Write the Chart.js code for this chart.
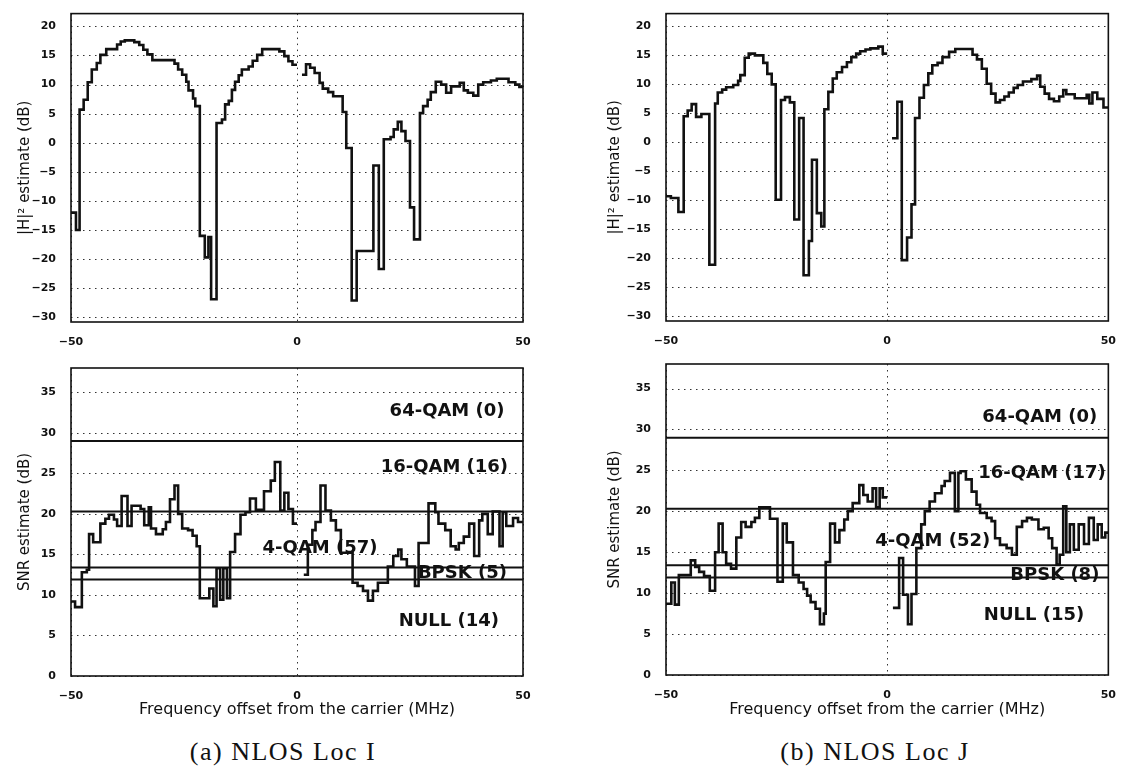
<!DOCTYPE html>
<html>
<head>
<meta charset="utf-8">
<script src="https://cdn.jsdelivr.net/npm/chart.js@4.4.1/dist/chart.umd.min.js"></script>
<style>
    html, body { margin: 0; background: #fff; }
    #page { position: relative; width: 1122px; height: 767px; overflow: hidden; background: #fff; }
    #page canvas { position: absolute; }
    .caption {
        position: absolute; top: 737px; line-height: 30px;
        font-family: "Liberation Serif", serif; font-size: 26px; letter-spacing: 1.5px;
        color: #111; white-space: nowrap; transform: translateX(-50%);
    }
</style>
</head>
<body>
<div id="page">
    <canvas id="h-loc-i" width="560" height="345" style="left:0;top:0"></canvas>
    <canvas id="snr-loc-i" width="560" height="385" style="left:0;top:345px"></canvas>
    <canvas id="h-loc-j" width="532" height="345" style="left:590px;top:0"></canvas>
    <canvas id="snr-loc-j" width="532" height="385" style="left:590px;top:345px"></canvas>
    <div class="caption" style="left:283px">(a) NLOS Loc I</div>
    <div class="caption" style="left:875px">(b) NLOS Loc J</div>
</div>

<script>
// tick labels
const FREQ_TICKS = [-50, 0, 50];
const H_TICKS = [-30, -25, -20, -15, -10, -5, 0, 5, 10, 15, 20];
const SNR_TICKS = [0, 5, 10, 15, 20, 25, 30, 35];

// modulation switching thresholds (dB)
const SNR_THRESHOLDS = [29, 20.3, 13.4, 11.9];

// |H|^2 estimate, Loc I  (step starts in MHz, level in dB, null = DC gap)
const LOC_I_H_FREQ = [-50, -48.9, -48.1, -47.2, -46.3, -45.4, -44.3, -43.5, -42.2, -39.8,
    -39, -38.1, -36, -34.9, -34, -33.1, -32, -27.1, -26.3, -25.4,
    -24.5, -24, -23, -22.5, -21.5, -20.4, -19.6, -19, -17.8, -16.6,
    -15.9, -15.1, -14.4, -13.7, -12.9, -12.2, -10.7, -9.8, -8.8, -7.7,
    -3.9, -2.8, -1.9, -1, 0, 0.5, 1.1, 2, 2.9, 3.9,
    5, 5.7, 6.9, 8, 10.1, 10.9, 12.1, 13.2, 16.9, 18.1,
    19.2, 20.7, 21.4, 22.3, 23.1, 24, 25, 25.9, 27.2, 27.9,
    28.9, 29.6, 30.7, 31.9, 33, 34.1, 36, 36.9, 37.8, 39,
    40.1, 41.2, 42.9, 44.2, 46.8, 48.3, 49.2, 50];
const LOC_I_H_DB = [-12, -15, 5.7, 7.4, 10.4, 12.6, 13.7, 15.1, 16.1, 16.9,
    17.4, 17.6, 17.3, 16.8, 16, 15.2, 14.2, 13.6, 12.6, 11.7,
    10.5, 9, 7.6, 6.3, -16, -19.7, -16.2, -26.9, 3.4, 4,
    6.6, 7.2, 9.1, 10.5, 11.6, 12.6, 13.1, 14.1, 15.1, 16.1,
    15.7, 14.9, 14, 13.4, 13.4, null, 11.7, 13.5, 12.9, 12,
    10.3, 9.3, 8.7, 8, 5.3, -0.9, -27.1, -18.6, -3.9, -21.7,
    0.6, 1, 2.3, 3.6, 2, 0.3, -11.1, -16.6, 5.1, 6.3,
    7.4, 8.7, 10.5, 10, 8.6, 9.7, 10.3, 9, 8.6, 8.1,
    10, 10.4, 10.7, 11, 10.4, 10, 9.6, 9.6];

// |H|^2 estimate, Loc J
const LOC_J_H_FREQ = [-50, -48.9, -47.2, -46, -45.1, -44.2, -43.2, -42, -40.2, -38.9,
    -38.3, -37.3, -36.4, -34.8, -33.7, -33.2, -32.2, -31.3, -29.9, -28,
    -27.1, -26.1, -25.2, -24, -23.1, -22, -21, -19.9, -18.9, -17.7,
    -17, -15.9, -14.9, -14.2, -13.3, -12.3, -11.4, -10.2, -9.1, -8.1,
    -7, -6.1, -4.9, -3.8, -2, -1, 0, 0.5, 1.1, 2.3,
    3.3, 4.5, 5.5, 6.3, 7.3, 8.3, 9.3, 10.2, 11.4, 12.5,
    14, 15.4, 19.3, 20.3, 21.4, 22.5, 23.5, 24.5, 25.5, 26.5,
    27.5, 28.6, 29.5, 30.7, 32.6, 33.9, 34.6, 35.6, 36.6, 37.7,
    38.9, 39.8, 40.5, 42.4, 45.1, 45.7, 46.4, 47.5, 48.9, 50];
const LOC_J_H_DB = [-9.3, -9.6, -12, 4.5, 5.5, 6.6, 4.4, 4.9, -21.1, 6.7,
    8.6, 9.1, 9.5, 9.9, 10.6, 11.6, 14.6, 15.3, 15, 13.7,
    11.8, 10, -9.9, 7.3, 7.8, 6.9, -13.3, 4.2, -22.9, -17,
    -3, -12.2, -14.5, 5.7, 8.7, 11, 12.1, 13, 13.8, 14.7,
    15.3, 15.7, 16, 16.2, 16.5, 15.3, 15.3, null, 0.7, 7,
    -20.3, -16.4, -10.7, 4.2, 7.7, 9.9, 11.9, 13.3, 13.7, 14.7,
    15.6, 16.1, 15.1, 14.3, 12.7, 10.1, 8.4, 6.9, 7.3, 7.9,
    8.6, 9.4, 9.9, 10.5, 10.9, 11.5, 9.6, 8.4, 7.5, 7.1,
    7.9, 9, 8.3, 7.6, 8.2, 6.7, 8.6, 7.5, 6, 6];

// SNR estimate, Loc I
const LOC_I_SNR_FREQ = [-50, -49.1, -47.6, -46.5, -46, -45.1, -43.5, -42.4, -41.6, -40.5,
    -39.8, -38.8, -37.5, -36.6, -34.6, -33.8, -32.8, -32.3, -31.2, -29.7,
    -29, -28.1, -27.1, -26.3, -25.4, -24.1, -23.1, -22.2, -21.5, -19.4,
    -18.5, -17.8, -17, -16.3, -15.5, -14.8, -13.7, -12.5, -11.4, -10.4,
    -9.1, -7.3, -5.8, -4.9, -3.7, -2.8, -1.9, -0.9, 0, 0.7,
    1.5, 2.4, 3.4, 4.1, 5.2, 6.3, 7.5, 8.6, 9.7, 12.3,
    13.4, 14.6, 15.7, 16.8, 17.9, 20.1, 21.3, 22.4, 23.1, 24.3,
    26.1, 26.9, 29.1, 30.6, 31.3, 32.8, 34, 35.1, 35.8, 36.9,
    38.1, 39.2, 40.3, 41, 42.2, 43.3, 44.8, 45.5, 46.3, 47.8,
    48.9, 50];
const LOC_I_SNR_DB = [9.2, 8.5, 12.8, 13.1, 17.5, 16.5, 18.8, 19.4, 19.9, 19.3,
    18.5, 22.2, 18.5, 21, 20.6, 18.6, 20.8, 18.2, 17.5, 18.1,
    19, 21.8, 23.5, 20, 18.2, 18, 17.3, 16, 9.6, 10.8,
    8.6, 13.3, 9.4, 13.3, 9.6, 15.3, 17.5, 19.9, 20.2, 21.9,
    20.5, 22.8, 24.1, 26.4, 20.4, 22.6, 20.6, 18.8, 18.8, null,
    12.5, 16.2, 18, 19, 23.5, 20.4, 19.2, 18, 15.2, 11.5,
    11.1, 10.5, 9.3, 10.5, 11.5, 13.5, 14.8, 15.6, 14.4, 13.5,
    11.1, 16.4, 21.3, 20.2, 18.8, 18, 16, 15.6, 16.4, 17.2,
    18.8, 14.8, 19.2, 20, 17.5, 20.3, 16, 20.2, 18.5, 19.5,
    19, 19];

// SNR estimate, Loc J
const LOC_J_SNR_FREQ = [-50, -48.8, -48, -47.1, -44.4, -43.4, -42.5, -41.4, -40.1, -38.9,
    -38.1, -37.2, -36.4, -35.3, -34.1, -33, -32, -30.7, -29.9, -28.9,
    -26.5, -24.8, -23.6, -22.7, -21.3, -20, -18.9, -18.1, -17.3, -16.2,
    -15.2, -14.3, -13.9, -12.9, -11.8, -10.8, -9.7, -8.9, -7.8, -6.3,
    -5.4, -4.4, -3.3, -2.5, -1.7, -1, 0, 0.6, 1.3, 2.7,
    3.6, 4.7, 5.5, 6.6, 7.7, 8.5, 9.6, 10.8, 12.3, 13,
    14.2, 15.3, 16.1, 16.6, 17.8, 19.1, 20.2, 21, 22.5, 23.6,
    24.4, 25.5, 27, 28.2, 29.3, 30.5, 31.6, 32.7, 34.2, 35.4,
    36.5, 37.3, 38.3, 39, 39.8, 40.5, 41.3, 42.2, 43.3, 44.5,
    45.6, 46.7, 47.6, 48.5, 49.3, 50];
const LOC_J_SNR_DB = [8.7, 11.3, 8.6, 12.2, 14, 13.2, 12.6, 12.1, 10.3, 15,
    18.5, 15, 13.6, 13, 16.8, 18.7, 18.1, 18.7, 19.2, 20.5,
    19.1, 11.4, 18.5, 16.2, 12.2, 11.3, 10.5, 9.7, 8.9, 8.1,
    6.2, 7.5, 13.8, 18.5, 16.2, 17.7, 19, 20, 21, 23.2,
    22, 21.2, 22.8, 20.5, 22.8, 21.7, 21.7, null, 8.2, 14.3,
    9.8, 6.2, 9.9, 15.5, 18.4, 20, 21.2, 22.2, 23.1, 23.7,
    24.7, 20, 24.7, 24.9, 23.9, 22.4, 20.8, 19.8, 19.2, 18.8,
    16.7, 15.9, 15.5, 14.7, 18.1, 18.8, 19.2, 19, 17.8, 18,
    16.7, 15.5, 13.5, 14.7, 20.6, 15, 18.4, 15.3, 18.4, 16,
    19.2, 16.5, 18.4, 16.8, 17.4, 17.4];

// subcarrier counts per modulation
const LOC_I_LEVELS = ['64-QAM (0)', '16-QAM (16)', '4-QAM (57)', 'BPSK (5)', 'NULL (14)'];
const LOC_J_LEVELS = ['64-QAM (0)', '16-QAM (17)', '4-QAM (52)', 'BPSK (8)', 'NULL (15)'];

// where the level names sit, [MHz, dB]
const LOC_I_LEVEL_AT = [[33.2, 32.6], [32.6, 25.7], [5.1, 15.8], [36.6, 12.7], [33.6, 6.7]];
const LOC_J_LEVEL_AT = [[34.5, 31.5], [35, 24.7], [10.3, 16.3], [37.9, 12.2], [33.2, 7.3]];

const ink = '#111';
Chart.defaults.font.family = '"DejaVu Sans", sans-serif';
Chart.defaults.color = ink;

function minusSign(v) {
    return String(v).replace('-', '\u2212');
}

// dotted grid + closed box + level names, matlab style
function paperFrame(levels, levelAt) {
    return {
        id: 'paperFrame',
        beforeDatasetsDraw(chart) {
            const {ctx, chartArea: a, scales} = chart;
            ctx.save();
            ctx.strokeStyle = '#333';
            ctx.lineWidth = 1;
            ctx.setLineDash([1.5, 4.5]);
            scales.y.ticks.forEach(t => {
                const py = Math.round(scales.y.getPixelForValue(t.value)) + 0.5;
                ctx.beginPath(); ctx.moveTo(a.left, py); ctx.lineTo(a.right, py); ctx.stroke();
            });
            scales.x.ticks.forEach(t => {
                const px = Math.round(scales.x.getPixelForValue(t.value)) + 0.5;
                ctx.beginPath(); ctx.moveTo(px, a.top); ctx.lineTo(px, a.bottom); ctx.stroke();
            });
            ctx.restore();
        },
        afterDatasetsDraw(chart) {
            const {ctx, chartArea: a, scales} = chart;
            ctx.save();
            if (levels) {
                ctx.fillStyle = ink;
                ctx.font = 'bold 18px "DejaVu Sans"';
                ctx.textAlign = 'center';
                ctx.textBaseline = 'middle';
                levels.forEach((txt, i) => {
                    ctx.fillText(txt, scales.x.getPixelForValue(levelAt[i][0]), scales.y.getPixelForValue(levelAt[i][1]));
                });
            }
            ctx.strokeStyle = ink;
            ctx.lineWidth = 1.6;
            ctx.strokeRect(a.left, a.top, a.right - a.left, a.bottom - a.top);
            ctx.restore();
        }
    };
}

function drawPanel(id, p) {
    const datasets = [{
        data: p.freq.map((f, i) => ({x: f, y: p.db[i]})),
        stepped: 'before',
        borderColor: ink,
        borderWidth: 2.6,
        pointRadius: 0,
        spanGaps: false
    }];

    (p.thresholds || []).forEach(t => {
        datasets.push({
            data: [{x: -50, y: t}, {x: 50, y: t}],
            borderColor: ink,
            borderWidth: 2,
            pointRadius: 0
        });
    });

    new Chart(document.getElementById(id), {
        type: 'line',
        data: {datasets: datasets},
        options: {
            responsive: false,
            animation: false,
            events: [],
            layout: {padding: {left: 0, top: p.top, right: p.right, bottom: 0}},
            plugins: {legend: {display: false}, tooltip: {enabled: false}},
            scales: {
                x: {
                    type: 'linear',
                    min: -50,
                    max: 50,
                    afterBuildTicks: s => { s.ticks = FREQ_TICKS.map(v => ({value: v})); },
                    afterFit: s => { s.height = p.xHeight; },
                    grid: {display: false},
                    border: {display: false},
                    ticks: {padding: 6, maxRotation: 0, autoSkip: false, font: {size: 11, weight: 'bold'}, callback: minusSign},
                    title: {
                        display: !!p.xTitle,
                        text: p.xTitle || '',
                        font: {size: 16},
                        padding: {top: 0, bottom: 11}
                    }
                },
                y: {
                    type: 'linear',
                    min: p.yMin,
                    max: p.yMax,
                    afterBuildTicks: s => { s.ticks = p.yTicks.map(v => ({value: v})); },
                    afterFit: s => { s.width = p.axisWidth; },
                    grid: {display: false},
                    border: {display: false},
                    ticks: {padding: 7, autoSkip: false, font: {size: 11, weight: 'bold'}, callback: minusSign},
                    title: {
                        display: true,
                        text: p.yTitle,
                        font: {size: 15},
                        padding: {top: 16, bottom: 0}
                    }
                }
            }
        },
        plugins: [paperFrame(p.levels, p.levelAt)]
    });
}

document.addEventListener('DOMContentLoaded', function () {
    /* |H|^2, Loc I */
    drawPanel('h-loc-i', {
        freq: LOC_I_H_FREQ, db: LOC_I_H_DB,
        yMin: -30.8, yMax: 22.2, yTicks: H_TICKS, yTitle: '|H|² estimate (dB)',
        axisWidth: 71, top: 12, right: 37, xHeight: 23
    });

    /* SNR, Loc I */
    drawPanel('snr-loc-i', {
        freq: LOC_I_SNR_FREQ, db: LOC_I_SNR_DB,
        yMin: 0, yMax: 38, yTicks: SNR_TICKS, yTitle: 'SNR estimate (dB)',
        xTitle: 'Frequency offset from the carrier (MHz)',
        thresholds: SNR_THRESHOLDS, levels: LOC_I_LEVELS, levelAt: LOC_I_LEVEL_AT,
        axisWidth: 71, top: 23, right: 37, xHeight: 54
    });

    /* |H|^2, Loc J */
    drawPanel('h-loc-j', {
        freq: LOC_J_H_FREQ, db: LOC_J_H_DB,
        yMin: -30.8, yMax: 22.2, yTicks: H_TICKS, yTitle: '|H|² estimate (dB)',
        axisWidth: 76, top: 9, right: 10, xHeight: 24
    });

    /* SNR, Loc J */
    drawPanel('snr-loc-j', {
        freq: LOC_J_SNR_FREQ, db: LOC_J_SNR_DB,
        yMin: 0, yMax: 38, yTicks: SNR_TICKS, yTitle: 'SNR estimate (dB)',
        xTitle: 'Frequency offset from the carrier (MHz)',
        thresholds: SNR_THRESHOLDS, levels: LOC_J_LEVELS, levelAt: LOC_J_LEVEL_AT,
        axisWidth: 76, top: 19, right: 10, xHeight: 55
    });
});
</script>
</body>
</html>
